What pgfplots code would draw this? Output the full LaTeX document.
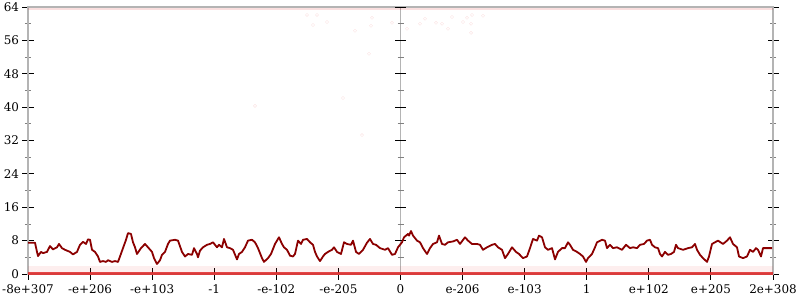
\documentclass[border=0pt]{standalone}
\usepackage{fontspec}
\setmainfont{DejaVu Serif}
\usepackage{pgfplots}
\pgfplotsset{compat=1.18}
\definecolor{darkline}{HTML}{8B0000}
\definecolor{axgray}{HTML}{B4B4B4}
\definecolor{dotred}{HTML}{E02828}
\newcommand{\lblfont}{\fontsize{12}{14}\selectfont}
\begin{document}
\begin{tikzpicture}
\useasboundingbox (0,0) rectangle (800bp,300bp);
\begin{axis}[
  at={(28bp,26bp)}, anchor=south west, scale only axis,
  width=745bp, height=267bp,
  xmin=28, xmax=773, ymin=0, ymax=64,
  xtick={28,90.08,152.17,214.25,276.33,338.42,400.5,462.58,524.67,586.75,648.83,710.92,773},
  xticklabels={-8e+307,-e+206,-e+103,-1,-e-102,-e-205,0,e-206,e-103,1,e+102,e+205,2e+308},
  ytick={0,8,16,24,32,40,48,56,64},
  minor ytick={4,12,20,28,36,44,52,60},
  xtick pos=bottom, ytick pos=both, yticklabel pos=left,
  tick align=center,
  major tick length=11bp, minor tick length=6bp,
  major tick style={black, line width=0.9bp},
  minor tick style={gray, line width=0.8bp},
  axis line style={axgray, line width=1.6bp},
  ticklabel style={font=\lblfont},
  xticklabel style={font=\lblfont, yshift=-1.5bp},
  yticklabel style={font=\lblfont},
  /pgf/number format/assume math mode=true,
  clip=false,
]
% center vertical axis
\draw[axgray, line width=1.6bp] (axis cs:400.5,0) -- (axis cs:400.5,64);
\pgfplotsinvokeforeach{8,16,24,32,40,48,56,64}{
  \draw[black, line width=0.9bp] ([xshift=-5.5bp]axis cs:400.5,#1) -- ([xshift=5.5bp]axis cs:400.5,#1);
}
\pgfplotsinvokeforeach{4,12,20,28,36,44,52,60}{
  \draw[gray, line width=0.8bp] ([xshift=-3bp]axis cs:400.5,#1) -- ([xshift=3bp]axis cs:400.5,#1);
}
% faint band and dots near zero
\addplot[fill=dotred, fill opacity=0.08, draw=none] coordinates {(28,0) (28,1.8) (773,1.8) (773,0)} -- cycle;
\addplot[dotred, line width=2.6bp, opacity=0.85] coordinates {(28,0.05) (773,0.05)};
% faint dots near top
\addplot[dotred, line width=2.2bp, opacity=0.15] coordinates {(28,63.5) (773,63.5)};
\addplot[only marks, mark=o, mark size=1.6bp, dotred, opacity=0.12] coordinates {
(307,62.1) (313,59.7) (317,62.1) (327,60.4) (355,58.3) (371,59.5) (372,61.4) (392,60.2)
(407,58.8) (420,60.0) (425,61.2) (436,60.2) (442,60.0) (448,58.8) (452,61.6) (463,60.4)
(467,61.4) (471,60.0) (471,57.8) (472,62.1) (483,61.9) (369,52.8) (343,42.2) (255,40.3) (362,33.3)};
% main series
\addplot[darkline, line width=1.8bp, line join=round] coordinates {
(28,7.5) (35,7.5) (37,5.3) (38,4.3) (41,5.3) (43,5.0) (47,5.3) (50,6.7) (53,5.9) (57,6.4)
(59,7.2) (62,6.2) (65,5.8) (70,5.3) (73,4.7) (77,5.3) (80,7.0) (83,7.7) (86,7.2) (88,8.3)
(90,8.2) (92,5.8) (95,5.3) (98,4.2) (100,2.9) (103,3.1) (106,2.9) (108,3.3) (112,2.9) (115,3.1)
(118,2.9) (120,4.2) (123,6.2) (126,8.2) (128,9.8) (131,9.6) (133,7.6) (135,6.4) (137,4.8) (141,6.2)
(145,7.2) (148,6.4) (152,5.3) (154,3.8) (157,2.4) (160,3.3) (162,4.6) (165,5.3) (168,7.2) (170,8.0)
(175,8.2) (178,8.0) (182,5.3) (185,4.2) (188,4.8) (192,4.6) (194,6.2) (197,4.8) (198,4.0) (200,5.6)
(203,6.4) (207,7.0) (210,7.2) (213,7.6) (217,6.4) (219,7.0) (222,6.4) (224,8.4) (227,6.4) (230,6.2)
(233,5.8) (237,3.5) (239,4.8) (242,5.3) (245,6.4) (248,8.0) (252,8.2) (255,7.6) (258,6.2) (262,3.8)
(264,2.9) (268,3.8) (271,4.8) (275,7.2) (277,8.0) (279,8.8) (282,7.2) (284,6.4) (287,5.8) (290,4.4)
(293,4.2) (295,4.8) (298,8.0) (301,7.2) (303,8.2) (307,8.4) (310,7.6) (313,7.0) (315,5.3) (317,4.2)
(320,3.1) (323,4.2) (325,4.8) (328,5.3) (332,5.8) (334,6.4) (337,5.3) (341,4.8) (344,7.6) (347,7.2)
(351,7.0) (353,8.0) (356,5.3) (359,4.8) (363,5.8) (367,7.5) (370,8.4) (373,7.2) (376,7.0) (380,6.2)
(385,5.8) (388,6.2) (392,4.6) (395,4.8) (398,6.4) (402,7.6) (404,8.8) (408,9.6) (409,9.2) (411,10.3)
(413,9.2) (417,8.0) (420,7.6) (423,6.2) (427,4.8) (430,6.2) (433,7.2) (437,7.6) (439,9.2) (442,7.2)
(445,7.0) (448,7.6) (453,7.8) (457,8.2) (460,7.2) (465,8.8) (468,8.0) (472,7.2) (477,7.2) (480,7.0)
(483,5.8) (487,6.4) (492,7.0) (495,7.2) (498,6.4) (502,5.8) (505,3.8) (508,4.8) (512,6.4) (516,5.3)
(519,4.8) (523,3.8) (527,4.2) (530,6.2) (533,8.4) (537,8.0) (539,9.2) (542,8.8) (545,6.4) (548,5.8)
(552,6.2) (555,3.5) (558,5.3) (562,6.2) (565,6.2) (568,7.6) (570,7.0) (573,5.8) (577,5.3) (580,4.8)
(583,4.2) (586,2.9) (588,3.8) (592,4.8) (595,6.4) (597,7.6) (602,8.2) (605,8.0) (607,6.2) (610,7.0)
(613,6.2) (617,6.4) (622,5.8) (626,7.0) (630,6.2) (633,6.4) (637,6.2) (640,7.0) (644,7.2) (647,8.0)
(650,8.2) (652,7.0) (655,6.4) (658,6.2) (660,4.8) (662,4.2) (665,5.3) (668,4.6) (671,4.8) (674,5.3)
(676,7.0) (678,6.2) (683,5.8) (688,6.2) (692,6.4) (695,7.2) (697,5.8) (700,4.6) (703,3.8) (707,2.9)
(709,4.2) (712,7.2) (715,7.6) (718,8.0) (723,7.2) (727,8.0) (730,8.8) (733,7.2) (737,6.4) (739,4.2)
(743,3.8) (747,4.2) (750,5.8) (753,5.3) (756,6.2) (758,5.8) (761,4.2) (763,6.2) (767,6.2) (772,6.2)};
\end{axis}
\end{tikzpicture}
\end{document}
